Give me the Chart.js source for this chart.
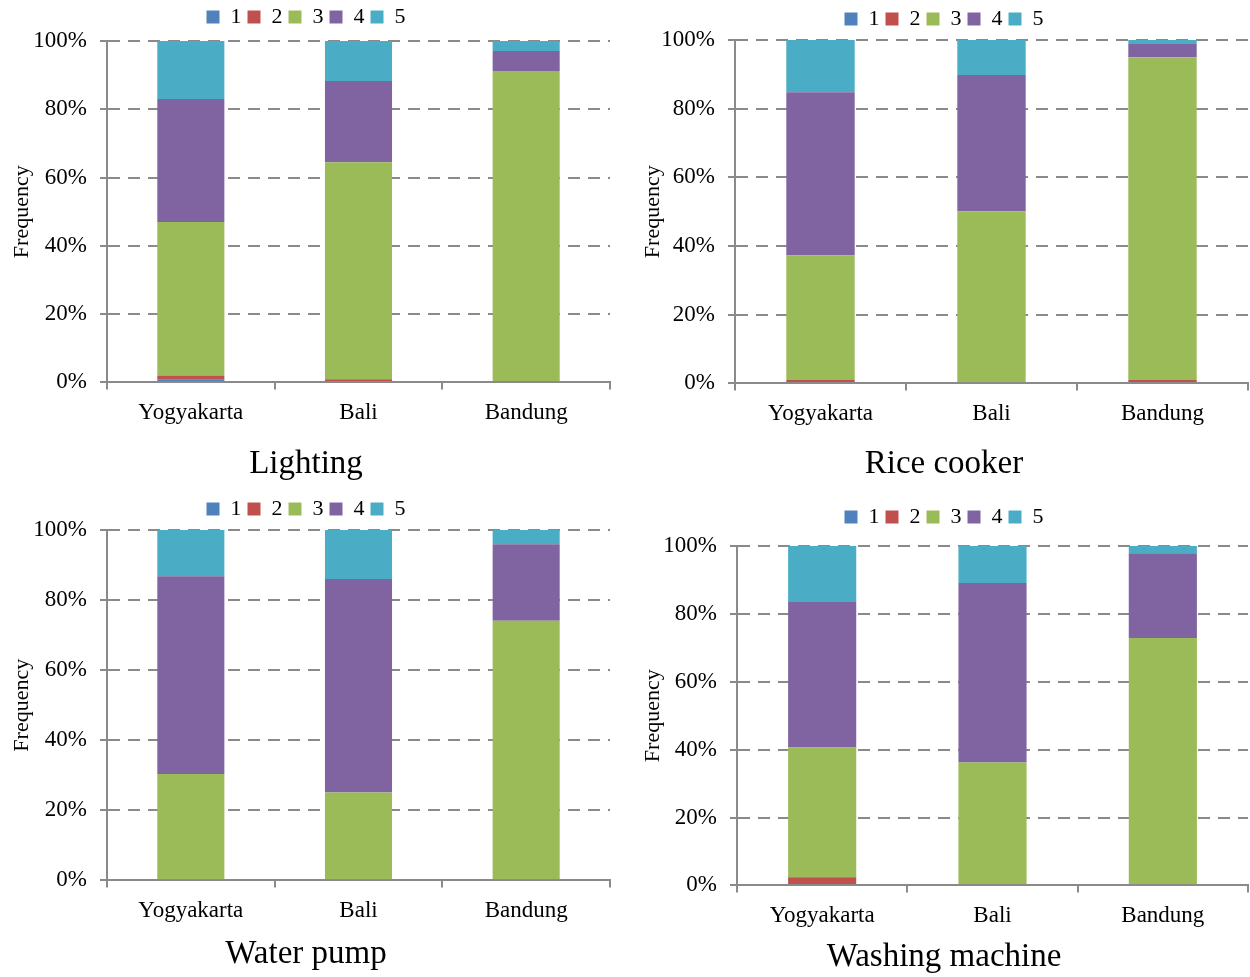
<!DOCTYPE html>
<html>
<head>
<meta charset="utf-8">
<script src="https://cdn.jsdelivr.net/npm/chart.js@4"></script>
<style>
  html, body { margin: 0; padding: 0; background: #fff; }
  .panel { position: absolute; }
</style>
</head>
<body>
<div class="panel" style="left:0;top:0;width:620px;height:488px"><canvas id="lighting"></canvas></div>
<div class="panel" style="left:628px;top:0;width:622px;height:488px"><canvas id="rice"></canvas></div>
<div class="panel" style="left:0;top:488px;width:620px;height:489px"><canvas id="pump"></canvas></div>
<div class="panel" style="left:628px;top:488px;width:622px;height:489px"><canvas id="washer"></canvas></div>
<script>
// Frequency of ratings 1-5 per city, in percent

const cities = ['Yogyakarta', 'Bali', 'Bandung'];
const ratingLabels = ['1', '2', '3', '4', '5'];
const ratingColors = ['#4F81BD', '#C0504D', '#9BBB59', '#8064A2', '#4BACC6'];
const yTicks = [0, 20, 40, 60, 80, 100];

// Lighting
const lighting1 = [0.8, 0, 0];
const lighting2 = [1.2, 0.9, 0];
const lighting3 = [45.0, 63.6, 91.2];
const lighting4 = [36.0, 23.8, 5.9];
const lighting5 = [17.0, 11.7, 2.9];

// Rice cooker
const rice1 = [0, 0, 0];
const rice2 = [1.0, 0, 1.0];
const rice3 = [36.3, 50.1, 94.0];
const rice4 = [47.5, 39.7, 3.8];
const rice5 = [15.2, 10.2, 1.2];

// Water pump
const pump1 = [0, 0, 0];
const pump2 = [0, 0, 0];
const pump3 = [30.4, 25.1, 74.1];
const pump4 = [56.4, 60.9, 21.8];
const pump5 = [13.2, 14.0, 4.1];

// Washing machine
const washer1 = [0, 0, 0];
const washer2 = [2.4, 0, 0];
const washer3 = [38.2, 36.2, 72.9];
const washer4 = [42.9, 52.9, 25.0];
const washer5 = [16.5, 10.9, 2.1];

Chart.defaults.font.family = '"Liberation Serif", "Times New Roman", serif';
Chart.defaults.color = '#000';

const gridColor = '#8a8a8a';

function makePanel(id, title, series, g) {
  new Chart(document.getElementById(id), {
    type: 'bar',
    data: {
      labels: cities,
      datasets: ratingLabels.map((r, i) => ({
        label: r,
        data: series[i],
        backgroundColor: ratingColors[i],
        barPercentage: 0.4,
        categoryPercentage: 1
      }))
    },
    options: {
      responsive: true,
      maintainAspectRatio: false,
      animation: false,
      layout: { padding: { left: g.padL, right: g.padR, top: g.padT, bottom: g.padB } },
      plugins: {
        legend: {
          position: 'top',
          labels: { boxWidth: 13, boxHeight: 13, padding: 6, font: { size: 22 }, color: '#000' }
        },
        // empty spacer between legend and plot
        subtitle: {
          display: true, text: '', position: 'top', weight: 500,
          font: { size: 1, lineHeight: 0 }, padding: { top: 0, bottom: g.gap }
        },
        title: {
          display: true, text: title, position: 'bottom',
          font: { size: 33, weight: 'normal' }, padding: 0, color: '#000'
        },
        tooltip: { enabled: false }
      },
      scales: {
        x: {
          stacked: true,
          afterFit: s => { s.height = g.xH; },
          grid: { drawOnChartArea: false, drawTicks: true, tickLength: 7, color: gridColor, lineWidth: 2 },
          border: { color: gridColor, width: 2, z: 1 },
          ticks: { padding: 10, font: { size: 23 }, color: '#000' }
        },
        y: {
          stacked: true,
          min: 0,
          max: 100,
          afterFit: s => { s.width = g.yW; },
          afterBuildTicks: s => { s.ticks = yTicks.map(v => ({ value: v })); },
          grid: { color: gridColor, lineWidth: 2, tickLength: 7, tickBorderDash: [] },
          border: { color: gridColor, width: 2, dash: [12, 8] },
          ticks: { padding: 13, font: { size: 23 }, color: '#000', callback: v => v + '%' },
          title: {
            display: true, text: 'Frequency', color: '#000',
            font: { size: 22 }, padding: { top: g.ytPad, bottom: 0 }
          }
        }
      }
    }
  });
}

makePanel('lighting', 'Lighting',
  [lighting1, lighting2, lighting3, lighting4, lighting5],
  { padL: 2, padR: 10, padT: 0, padB: 4, yW: 105, xH: 62, gap: 3, ytPad: 7 });

makePanel('rice', 'Rice cooker',
  [rice1, rice2, rice3, rice4, rice5],
  { padL: 12, padR: 2, padT: 2, padB: 4, yW: 95, xH: 61, gap: 0, ytPad: 0 });

makePanel('pump', 'Water pump',
  [pump1, pump2, pump3, pump4, pump5],
  { padL: 2, padR: 10, padT: 4, padB: 3, yW: 105, xH: 54, gap: 0, ytPad: 7 });

makePanel('washer', 'Washing machine',
  [washer1, washer2, washer3, washer4, washer5],
  { padL: 12, padR: 2, padT: 12, padB: 0, yW: 97, xH: 52, gap: 8, ytPad: 0 });
</script>
</body>
</html>
